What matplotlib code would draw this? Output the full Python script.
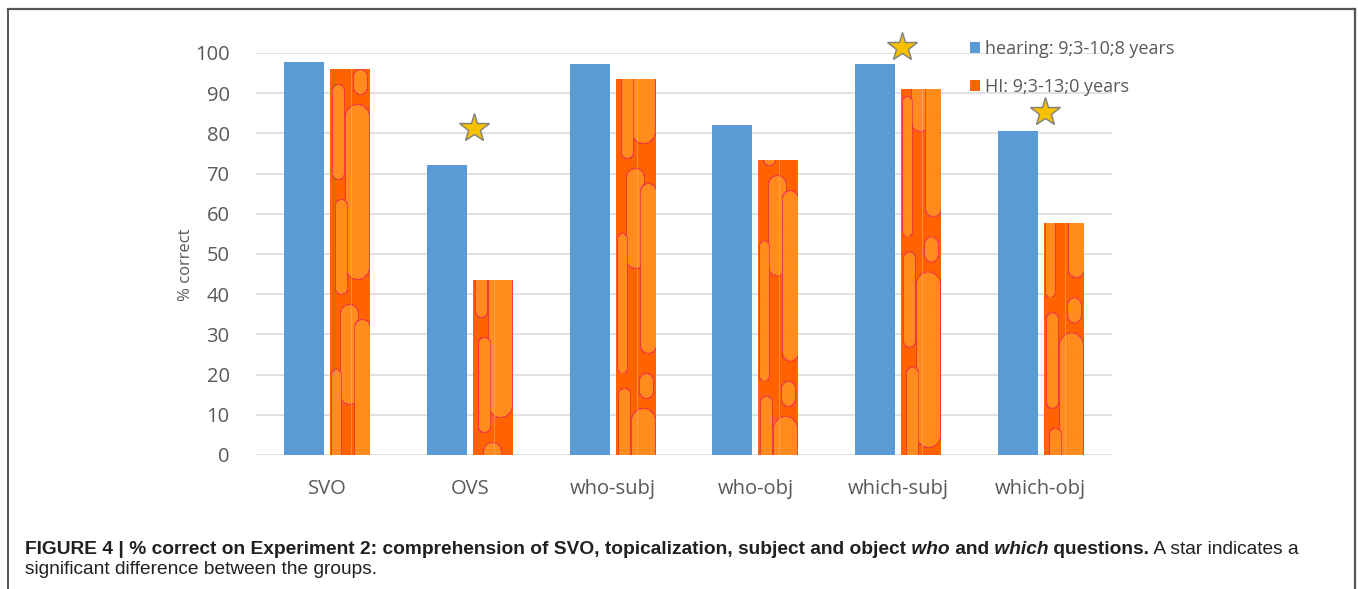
import numpy as np
import matplotlib
matplotlib.use("Agg")
import matplotlib.pyplot as plt
from matplotlib.lines import Line2D

# ---- data -------------------------------------------------------------
categories = ["SVO", "OVS", "who-subj", "who-obj", "which-subj", "which-obj"]
hearing = [97.8, 72.1, 97.3, 82.0, 97.3, 80.6]
hi_group = [96.0, 43.5, 93.5, 73.4, 91.1, 57.8]
significant = [False, True, False, False, True, True]
star_height = [None, 81.3, None, None, 101.5, 85.3]
series_labels = ["hearing: 9;3-10;8 years", "HI: 9;3-13;0 years"]
yticks = list(range(0, 101, 10))

BLUE = "#5B9BD5"
ORANGE = "#FF6300"
LIGHT_OR = "#FF8C1C"
LINE_RED = "#E8285C"
GRID = "#D9D9D9"
TXT = "#595959"

W, H, DPI = 1358, 589, 100
fig = plt.figure(figsize=(W / DPI, H / DPI), dpi=DPI)
fig.patch.set_facecolor("white")

ax = fig.add_axes([256 / W, 1 - 455 / H, (1112 - 256) / W, (455 - 53) / H])
ax.set_xlim(-0.5, len(categories) - 0.5)
ax.set_ylim(0, 100)
for s in ax.spines.values():
    s.set_visible(False)
ax.set_yticks(yticks)
ax.yaxis.grid(True, color=GRID, lw=1.1)
ax.set_axisbelow(True)
ax.tick_params(axis="both", length=0, labelcolor=TXT, labelsize=14.5)
ax.tick_params(axis="y", pad=19)
ax.tick_params(axis="x", pad=17)
plt.setp(ax.get_yticklabels() + ax.get_xticklabels(), family="Open Sans")

x = np.arange(len(categories))
bw = 0.28
off = 0.161
b1 = ax.bar(x - off, hearing, bw, color=BLUE, label=series_labels[0], zorder=2)
b2 = ax.bar(x + off, hi_group, bw, color=ORANGE, label=series_labels[1], zorder=2)
ax.set_xticks(x)
ax.set_xticklabels(categories, family="Open Sans")


# ---- decorative texture for the HI bars -------------------------------
def make_texture(h=440, w=40, shift=0):
    yy, xx = np.mgrid[0:h, 0:w].astype(float)
    yy = (yy + shift) % h
    base = np.array(matplotlib.colors.to_rgb(ORANGE))
    light = np.array(matplotlib.colors.to_rgb(LIGHT_OR))
    red = np.array(matplotlib.colors.to_rgb(LINE_RED))
    img = np.ones((h, w, 3)) * base
    caps = [(8, 6, 15, 110), (27, 12, 35, 210), (19, 9, 235, 335),
            (6, 5, 300, 440), (32, 8, 250, 420), (11, 6, 130, 225),
            (30, 7, 0, 25)]
    for xc, r, y0, y1 in caps:
        ya, yb = y0 + r, y1 - r
        cy = np.clip(yy, ya, yb)
        d = np.hypot(xx - xc, yy - cy) - r
        img[d < 0] = light
        edge = np.abs(d) < 0.8
        img[edge] = img[edge] * 0.35 + red * 0.65
    # faint vertical streak
    streak = np.abs(xx - 21) < 0.8
    img[streak] = img[streak] * 0.5 + np.array([1.0, 0.72, 0.45]) * 0.5
    return img


px_per_unit = (455 - 53) / 100.0
for i, bar in enumerate(b2):
    h = bar.get_height()
    npx = max(int(round(h * px_per_unit)), 2)
    tex = make_texture(shift=i * 73)[:npx]
    x0 = bar.get_x()
    im = ax.imshow(tex, extent=(x0, x0 + bar.get_width(), 0, h),
                   aspect="auto", origin="upper", zorder=2.5,
                   interpolation="bilinear")
    im.set_clip_path(bar)

ax.set_xlim(-0.5, len(categories) - 0.5)
ax.set_ylim(0, 100)

# ---- significance stars -----------------------------------------------
for i, sig in enumerate(significant):
    if sig:
        ax.plot(x[i] + 0.03, star_height[i], marker="*", ms=22,
                mfc="#F6C000", mec="#7F7F7F", mew=1.0, clip_on=False, zorder=4)

# ---- axis label and legend ---------------------------------------------
fig.text(186 / W, 1 - 265 / H, "% correct", rotation=90, ha="center",
         va="center", color=TXT, fontsize=12, family="Open Sans")

leg = ax.legend(handles=[b1, b2], loc="upper left",
                bbox_to_anchor=(970 / W, 1 - 40 / H),
                bbox_transform=fig.transFigure, frameon=False,
                handlelength=0.55, handleheight=0.55, handletextpad=0.3,
                labelspacing=1.1, borderpad=0, borderaxespad=0,
                prop={"family": "Open Sans", "size": 13})
for t in leg.get_texts():
    t.set_color(TXT)

# ---- frame around figure panel -----------------------------------------
frame_c = "#555555"
fig.add_artist(Line2D([8 / W, 8 / W], [0, 1 - 9 / H], color=frame_c, lw=1.4,
                      transform=fig.transFigure))
fig.add_artist(Line2D([1355 / W, 1355 / W], [0, 1 - 9 / H], color=frame_c,
                      lw=1.6, transform=fig.transFigure))
fig.add_artist(Line2D([8 / W, 1355 / W], [1 - 9 / H, 1 - 9 / H], color=frame_c,
                      lw=1.6, transform=fig.transFigure))

# ---- caption -------------------------------------------------------------
cap_font = "Liberation Sans"
cap_size = 13.75
renderer = fig.canvas.get_renderer()
pieces = [
    ("FIGURE 4 | % correct on Experiment 2: comprehension of SVO, topicalization, subject and object", "bold", "normal"),
    (" who", "bold", "italic"),
    (" and", "bold", "normal"),
    (" which", "bold", "italic"),
    (" questions.", "bold", "normal"),
    (" A star indicates a", "normal", "normal"),
]
xpos = 25
y1 = 1 - 554 / H
for txt, wt, st in pieces:
    t = fig.text(xpos / W, y1, txt, fontsize=cap_size, family=cap_font,
                 weight=wt, style=st, color="#231F20", va="baseline")
    bb = t.get_window_extent(renderer)
    xpos = bb.x1
fig.text(25 / W, 1 - 574 / H, "significant difference between the groups.",
         fontsize=cap_size, family=cap_font, color="#231F20", va="baseline")

fig.savefig("out.png", dpi=DPI)
